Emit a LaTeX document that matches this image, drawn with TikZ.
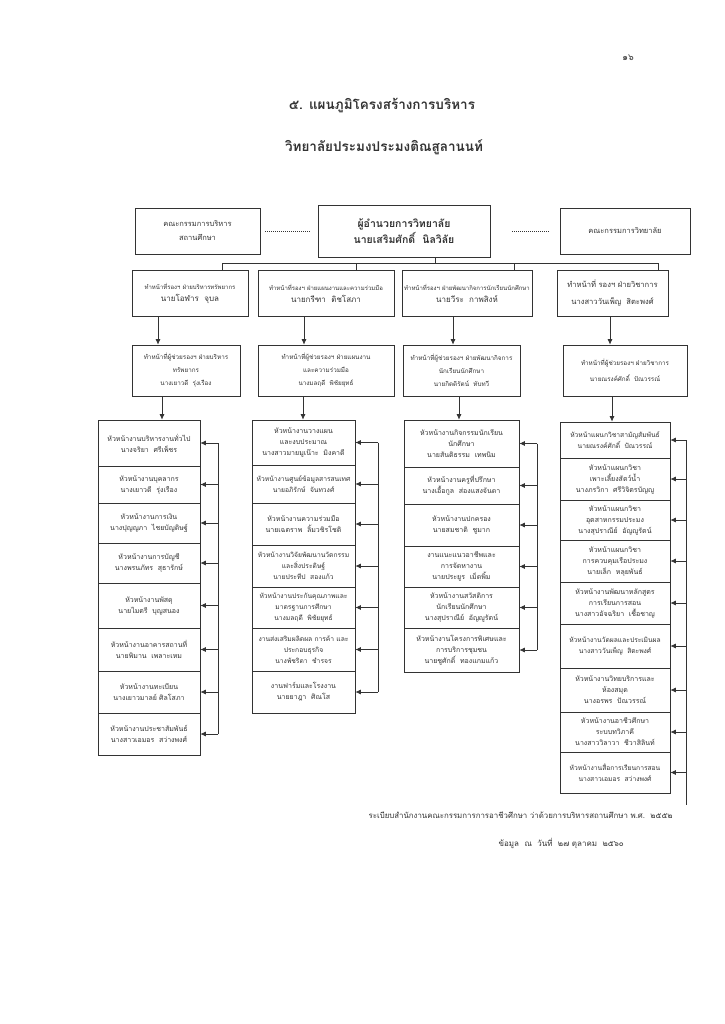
\documentclass[tikz,border=0pt]{standalone}
\usepackage{fontspec}
\setmainfont[Script=Thai]{Loma}
\usetikzlibrary{arrows.meta}
\begin{document}
\begin{tikzpicture}[x=1pt, y=-1pt, line width=0.7pt, color=black!80,
    cell/.style = {draw, align=center, inner xsep=1pt, inner ysep=1pt, font=\fontsize{7}{11}\selectfont},
    col1/.style = {cell, minimum width=102pt},
    col2/.style = {cell, minimum width=103pt},
    col3/.style = {cell, minimum width=115pt},
    col4/.style = {cell, minimum width=110pt},
    tight/.style = {font=\fontsize{6.7}{11}\selectfont, inner xsep=0pt},
    rank/.style = {cell, minimum height=46pt, font=\fontsize{6}{12}\selectfont},
    helper/.style = {cell, minimum height=51pt, font=\fontsize{6.3}{13}\selectfont},
    board/.style = {draw, align=center, minimum height=46pt, font=\fontsize{7.5}{14}\selectfont},
    arr/.style = {-{Latex[length=5.5pt, width=5pt]}},
    dots/.style = {line width=0.4pt, dash pattern=on 1pt off 1pt}]
  \useasboundingbox (0,0) rectangle (724,1024);
  \fill[white] (0,0) rectangle (724,1024);

  % page number and title
  \node[font=\fontsize{9}{11}\selectfont] (page) at (628,58) {๑๖};
  \node[font=\bfseries\fontsize{13.5}{15}\selectfont] (title) at (382,106) {๕. แผนภูมิโครงสร้างการบริหาร};
  \node[font=\bfseries\fontsize{13.5}{15}\selectfont] (college) at (384,147) {วิทยาลัยประมงประมงติณสูลานนท์};

  % top row
  \node[board, minimum width=125pt] (bL) at (197.5,231) {คณะกรรมการบริหาร\\สถานศึกษา};
  \node[board, minimum width=172pt, minimum height=52pt, font=\bfseries\fontsize{10.5}{16}\selectfont] (D) at (404,231) {ผู้อำนวยการวิทยาลัย\\นายเสริมศักดิ์~~นิลวิลัย};
  \node[board, minimum width=130pt] (bR) at (625,231) {คณะกรรมการวิทยาลัย};
  \draw[dots] ([xshift=5pt]bL.east) -- ([xshift=-8pt]D.west);
  \draw[dots] ([xshift=22pt]D.east) -- ([xshift=-10pt]bR.west);

  % deputies
  \node[rank, minimum width=116pt] (b1) at (190,293) {ทำหน้าที่รองฯ ฝ่ายบริหารทรัพยากร\\{\fontsize{8}{12}\selectfont นายโอฬาร~~จุบล}};
  \node[rank, minimum width=136pt] (b2) at (326,293) {ทำหน้าที่รองฯ ฝ่ายแผนงานและความร่วมมือ\\{\fontsize{8}{12}\selectfont นายกรีฑา~~ติชโสภา}};
  \node[rank, minimum width=130pt] (b3) at (467,293) {ทำหน้าที่รองฯ ฝ่ายพัฒนากิจการนักเรียนนักศึกษา\\{\fontsize{8}{12}\selectfont นายวีระ~~กาพสิงห์}};
  \node[rank, minimum width=111pt, font=\fontsize{7.6}{17}\selectfont] (b4) at (612.5,293) {ทำหน้าที่ รองฯ ฝ่ายวิชาการ\\นางสาววันเพ็ญ~~สิตะพงศ์};

  \coordinate (busL) at (222,263);
  \coordinate (busR) at (658,263);
  \coordinate (tapD) at (435,263);
  \coordinate (tap2) at (356,263);
  \coordinate (tap3) at (514,263);
  \draw (tapD |- D.south) -- (tapD);
  \draw (busL |- b1.north) -- (busL) -- (busR) -- (busR |- b4.north);
  \draw (tap2) -- (tap2 |- b2.north);
  \draw (tap3) -- (tap3 |- b3.north);

  % assistants
  \node[helper, minimum width=108pt] (c1) at (186,370.5) {ทำหน้าที่ผู้ช่วยรองฯ ฝ่ายบริหาร\\ทรัพยากร\\นางเยาวดี~~รุ่งเรือง};
  \node[helper, minimum width=136pt] (c2) at (326,370.5) {ทำหน้าที่ผู้ช่วยรองฯ ฝ่ายแผนงาน\\และความร่วมมือ\\นางมลฤดี~~พิชัยยุทธ์};
  \node[helper, minimum width=117pt] (c3) at (461.5,370.5) {ทำหน้าที่ผู้ช่วยรองฯ ฝ่ายพัฒนากิจการ\\นักเรียนนักศึกษา\\นายกิตติรัตน์~~ทับทวี};
  \node[helper, minimum width=124pt, font=\fontsize{6.3}{16}\selectfont] (c4) at (625,370.5) {ทำหน้าที่ผู้ช่วยรองฯ ฝ่ายวิชาการ\\นายณรงค์ศักดิ์~~ปัณวรรณ์};

  \coordinate (a1) at (158,0);
  \coordinate (a2) at (304,0);
  \coordinate (a3) at (453,0);
  \coordinate (a4) at (610,0);
  \draw[arr] (a1 |- b1.south) -- (a1 |- c1.north);
  \draw[arr] (a2 |- b2.south) -- (a2 |- c2.north);
  \draw[arr] (a3 |- b3.south) -- (a3 |- c3.north);
  \draw[arr] (a4 |- b4.south) -- (a4 |- c4.north);

  % column 1
  \node[col1, minimum height=46pt] (k11) at (149,443) {หัวหน้างานบริหารงานทั่วไป\\นางจริยา~~ศรีเพ็ชร};
  \node[col1, minimum height=37pt] (k12) at (149,484.5) {หัวหน้างานบุคลากร\\นางเยาวดี~~รุ่งเรือง};
  \node[col1, minimum height=40pt] (k13) at (149,523) {หัวหน้างานการเงิน\\นางปุญญภา~~ไชยบัญดิษฐ์};
  \node[col1, minimum height=40pt] (k14) at (149,563) {หัวหน้างานการบัญชี\\นางพรนภัทร~~สุธารักษ์};
  \node[col1, minimum height=45pt] (k15) at (149,605.5) {หัวหน้างานพัสดุ\\นายไมตรี~~บุญสนอง};
  \node[col1, minimum height=43pt] (k16) at (149,649.5) {หัวหน้างานอาคารสถานที่\\นายพิมาน~~เพลาะเหม};
  \node[col1, minimum height=42pt] (k17) at (149,692) {หัวหน้างานทะเบียน\\นางเยาวมาลย์~ศิลโสภา};
  \node[col1, minimum height=42pt] (k18) at (149,734) {หัวหน้างานประชาสัมพันธ์\\นางสาวเอมอร~~สว่างพงศ์};

  % column 2
  \node[col2, minimum height=45pt] (k21) at (303.5,442.5) {หัวหน้างานวางแผน\\และงบประมาณ\\นางสาวมายมูเน๊าะ~~มิงคาดี};
  \node[col2, tight, minimum height=38pt] (k22) at (303.5,484) {หัวหน้างานศูนย์ข้อมูลสารสนเทศ\\นายอภิรักษ์~~จันทวงศ์};
  \node[col2, minimum height=42pt] (k23) at (303.5,524) {หัวหน้างานความร่วมมือ\\นายเฉตราพ~~ลิ้มวชิรโชติ};
  \node[col2, tight, minimum height=42pt] (k24) at (303.5,566) {หัวหน้างานวิจัยพัฒนานวัตกรรม\\และสิ่งประดิษฐ์\\นายประทีป~~สองแก้ว};
  \node[col2, tight, minimum height=41pt] (k25) at (303.5,607.5) {หัวหน้างานประกันคุณภาพและ\\มาตรฐานการศึกษา\\นางมลฤดี~~พิชัยยุทธ์};
  \node[col2, tight, minimum height=43pt] (k26) at (303.5,649.5) {งานส่งเสริมผลิตผล การค้า และ\\ประกอบธุรกิจ\\นางพัชริดา~~ชำรจร};
  \node[col2, minimum height=42pt] (k27) at (303.5,692) {งานฟาร์มและโรงงาน\\นายยาฎา~~ศิณโส};

  % column 3
  \node[col3, minimum height=47pt] (k31) at (461.5,443.5) {หัวหน้างานกิจกรรมนักเรียน\\นักศึกษา\\นายสันติธรรม~~เทพนิม};
  \node[col3, minimum height=37pt] (k32) at (461.5,485.5) {หัวหน้างานครูที่ปรึกษา\\นางเอื้อกูล~~ส่องแสงจันดา};
  \node[col3, minimum height=42pt] (k33) at (461.5,525) {หัวหน้างานปกครอง\\นายสมชาติ~~ชูมาก};
  \node[col3, minimum height=41pt] (k34) at (461.5,566.5) {งานแนะแนวอาชีพและ\\การจัดหางาน\\นายประยูร~~เม็ดพิ้ม};
  \node[col3, minimum height=41pt] (k35) at (461.5,607.5) {หัวหน้างานสวัสดิการ\\นักเรียนนักศึกษา\\นางสุปราณีย์~~อัญญูรัตน์};
  \node[col3, minimum height=44pt] (k36) at (461.5,650) {หัวหน้างานโครงการพิเศษและ\\การบริการชุมชน\\นายชูศักดิ์~~ทองแกมแก้ว};

  % column 4
  \node[col4, tight, minimum height=36pt] (k41) at (615,440) {หัวหน้าแผนกวิชาสามัญสัมพันธ์\\นายณรงค์ศักดิ์~~ปัณวรรณ์};
  \node[col4, minimum height=42pt] (k42) at (615,479) {หัวหน้าแผนกวิชา\\เพาะเลี้ยงสัตว์น้ำ\\นางภรวิกา~~ศรีวิจิตรบัญญู};
  \node[col4, minimum height=40pt] (k43) at (615,520) {หัวหน้าแผนกวิชา\\อุตสาหกรรมประมง\\นางสุปราณีย์~~อัญญูรัตน์};
  \node[col4, minimum height=42pt] (k44) at (615,561) {หัวหน้าแผนกวิชา\\การควบคุมเรือประมง\\นายเล็ก~~หลุยพันธ์};
  \node[col4, minimum height=42pt] (k45) at (615,603) {หัวหน้างานพัฒนาหลักสูตร\\การเรียนการสอน\\นางสาวอัจฉริยา~~เชื้อชาญ};
  \node[col4, tight, minimum height=44pt] (k46) at (615,646) {หัวหน้างานวัดผลและประเมินผล\\นางสาววันเพ็ญ~~สิตะพงศ์};
  \node[col4, minimum height=44pt] (k47) at (615,690) {หัวหน้างานวิทยบริการและ\\ห้องสมุด\\นางอรพร~~ปัณวรรณ์};
  \node[col4, minimum height=40pt] (k48) at (615,732) {หัวหน้างานอาชีวศึกษา\\ระบบทวิภาคี\\นางสาววิลาวา~~ชีวาสิลินท์};
  \node[col4, tight, minimum height=41pt] (k49) at (615,772.5) {หัวหน้างานสื่อการเรียนการสอน\\นางสาวเอมอร~~สว่างพงศ์};

  % assistants to columns
  \coordinate (d1) at (162,0);
  \coordinate (d2) at (303,0);
  \coordinate (d3) at (459,0);
  \coordinate (d4) at (612,0);
  \draw[arr] (d1 |- c1.south) -- (d1 |- k11.north);
  \draw[arr] (d2 |- c2.south) -- (d2 |- k21.north);
  \draw[arr] (d3 |- c3.south) -- (d3 |- k31.north);
  \draw[arr] (d4 |- c4.south) -- (d4 |- k41.north);

  % side lines with arrows
  \coordinate (v1) at (218,0);
  \coordinate (v2) at (378,0);
  \coordinate (v3) at (537,0);
  \coordinate (v4) at (686,0);
  \coordinate (v4end) at (686,805);
  \draw (v1 |- k11.east) -- (v1 |- k18.east);
  \draw (v2 |- k21.east) -- (v2 |- k27.east);
  \draw (v3 |- k31.east) -- (v3 |- k36.east);
  \draw (v4 |- k41.east) -- (v4end);
  \foreach \i in {1,...,8}
    \draw[arr] (v1 |- k1\i.east) -- (k1\i.east);
  \foreach \i in {1,...,7}
    \draw[arr] (v2 |- k2\i.east) -- (k2\i.east);
  \foreach \i in {1,...,6}
    \draw[arr] (v3 |- k3\i.east) -- (k3\i.east);
  \foreach \i in {1,...,9}
    \draw[arr] (v4 |- k4\i.east) -- (k4\i.east);

  % footnote
  \node[anchor=west, font=\fontsize{7.85}{9}\selectfont] (rule) at (365,815) {ระเบียบสำนักงานคณะกรรมการการอาชีวศึกษา ว่าด้วยการบริหารสถานศึกษา พ.ศ.~~๒๕๕๒};
  \node[anchor=west, font=\fontsize{8}{10}\selectfont] (date) at (495,843) {ข้อมูล~~ณ~~วันที่~~๒๗ ตุลาคม~~๒๕๖๐};
\end{tikzpicture}
\end{document}
